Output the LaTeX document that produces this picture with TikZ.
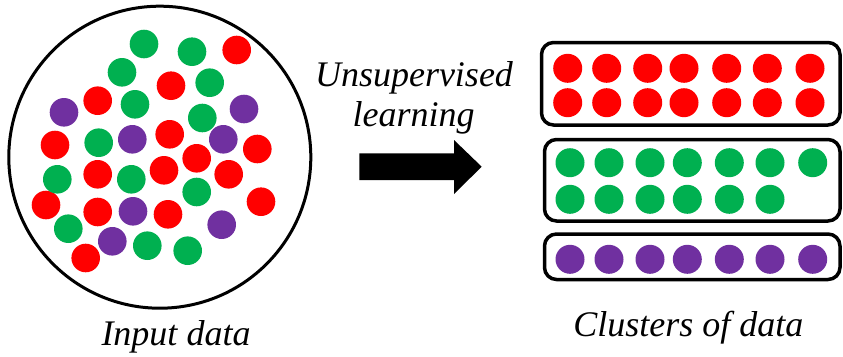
\documentclass[tikz,border=0pt]{standalone}
\usepackage{fontspec}
\setmainfont{Liberation Serif}
\definecolor{dotred}{HTML}{FF0000}
\definecolor{dotgreen}{HTML}{00B050}
\definecolor{dotpurple}{HTML}{7030A0}
\begin{document}
\begin{tikzpicture}[x=1pt,y=-1pt,
  lab/.style={font=\fontsize{36}{42}\selectfont\itshape, inner sep=0pt, anchor=base},
  clusterbox/.style={draw, line width=3.5pt, rounded corners=12pt},
  dotr/.style={fill=dotred},
  dotg/.style={fill=dotgreen},
  dotp/.style={fill=dotpurple}]
\useasboundingbox (0,0) rectangle (843,356);

% the unsorted pool of points
\node[circle, draw, line width=3pt, inner sep=0pt, minimum size=302pt] (pool) at (159.8,157.2) {};
\foreach \x/\y in {236.7/50, 171/85.7, 97.7/100.7, 55/145, 169.7/134.3, 257.3/149,
  196.7/158.3, 97.7/174.3, 164/170.3, 228.7/174.3, 46/205, 97.7/212, 168/214.3,
  261/201.7, 85.7/258}
  \fill[dotr] (\x,\y) circle[radius=14.3];
\foreach \x/\y in {144/44, 192/51.7, 122/72.3, 209.7/82.7, 135/104.3, 202.3/118,
  98.7/142.7, 57.3/179.3, 131.3/179.3, 196.7/192, 68.3/228.7, 147.3/245.7, 187.7/250.7}
  \fill[dotg] (\x,\y) circle[radius=14.3];
\foreach \x/\y in {64/112.3, 244/109, 132.3/139.3, 223.3/139.3, 133/211.3,
  221.7/224.7, 112.3/241.3}
  \fill[dotp] (\x,\y) circle[radius=14.3];

% block arrow
\fill (359.3,153.3) -- (454,153.3) -- (454,140) -- (481.7,166.7)
  -- (454,194) -- (454,180) -- (359.3,180) -- cycle;
\node[lab] (method1) at (414,86) {Unsupervised};
\node[lab] (method2) at (413.5,126) {learning};

% grouped clusters
\draw[clusterbox] (541.5,42.5) rectangle (840,125);
\draw[clusterbox] (544.5,139.5) rectangle (840,221);
\draw[clusterbox] (544.5,234) rectangle (840,279.5);
\foreach \x in {567.7, 606.7, 647.7, 684, 726.7, 767.3, 810} {
  \fill[dotr] (\x,68.3) circle[radius=14.5];
  \fill[dotr] (\x,102.7) circle[radius=14.5];
}
\foreach \x in {570, 609, 650, 687.3, 729.3, 770, 812.7}
  \fill[dotg] (\x,162.7) circle[radius=14.5];
\foreach \x in {570, 609, 650, 687.3, 729.3, 770}
  \fill[dotg] (\x,199.3) circle[radius=14.5];
\foreach \x in {570, 609, 650, 687.3, 729.3, 770, 812.7}
  \fill[dotp] (\x,259.3) circle[radius=14.5];

% captions
\node[lab] (inlab) at (176,345) {Input data};
\node[lab] (outlab) at (688.3,336) {Clusters of data};
\end{tikzpicture}
\end{document}
